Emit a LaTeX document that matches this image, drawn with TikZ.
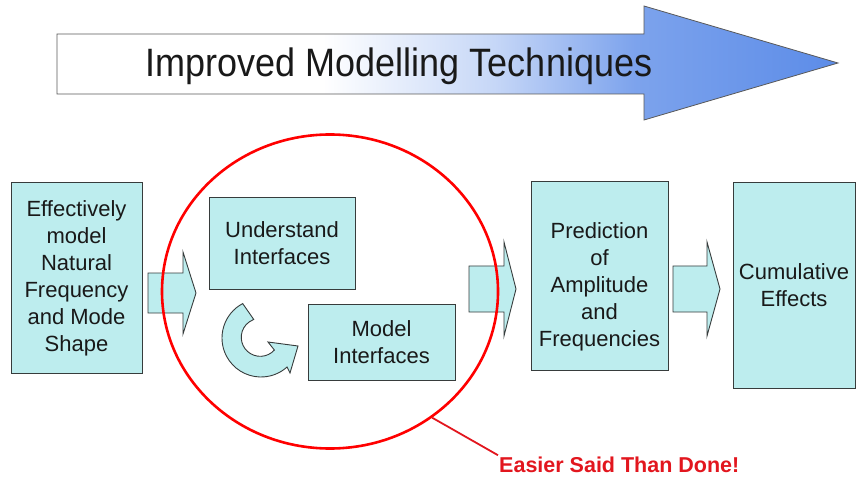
\documentclass[tikz,border=0pt]{standalone}
\usepackage{fontspec}
\setmainfont{Liberation Sans}
\usetikzlibrary{shapes.geometric,positioning}
\definecolor{boxcyan}{RGB}{189,237,238}
\definecolor{edgegray}{RGB}{55,60,60}
\definecolor{arrowblue}{RGB}{92,140,232}
\definecolor{callred}{RGB}{226,22,30}
\pgfdeclarehorizontalshading{titleshade}{100bp}{color(0bp)=(white); color(42bp)=(white); color(53bp)=(arrowblue!35); color(62bp)=(arrowblue!80); color(75bp)=(arrowblue); color(100bp)=(arrowblue)}

\begin{document}
\begin{tikzpicture}[x=1pt,y=1pt,
  flowbox/.style={draw=edgegray,line width=1pt,fill=boxcyan,inner sep=0,align=center,text=black!90,font=\fontsize{22}{27}\selectfont},
  boxtext/.style={inner sep=0,align=center,text=black!90,font=\fontsize{22}{27}\selectfont},
  blockarr/.style={draw=edgegray,line width=0.9pt,fill=boxcyan,line join=miter}]
\useasboundingbox (0,0) rectangle (856,477);
% heading arrow
\shadedraw[shading=titleshade,draw=gray!70!black,line width=0.8pt] (57,383) -- (644,383) -- (644,357) -- (838,414) -- (644,471) -- (644,443) -- (57,443) -- cycle;
\node[anchor=base,font=\fontsize{36}{40}\selectfont,text=black!90] (title) at (399,400) {\scalebox{1}[1.1]{Improved Modelling Techniques}};
% boxes
\node[flowbox,minimum width=131,minimum height=190] (natfreq) at (76.5,199) {Effectively\\model\\Natural\\Frequency\\and Mode\\Shape};
\node[flowbox,minimum width=146,minimum height=91] (understand) at (282,233.5) {Understand\\Interfaces};
\node[flowbox,minimum width=147,minimum height=76] (modelif) at (381.5,135) {Model\\Interfaces};
\node[flowbox,minimum width=137,minimum height=188] (predict) at (599.5,201) {};
\node[boxtext] (predicttext) at ([yshift=-11]predict.center) {Prediction\\of\\Amplitude\\and\\Frequencies};
\node[flowbox,minimum width=122,minimum height=205] (cumul) at (794,191.5) {Cumulative\\Effects};
% block arrows
\foreach \xa/\xb/\xc/\yc/\hb/\hh in {148/183/196/184/20/41, 469/504/516/188/23/47, 673/707/720/188/23/47}
  \draw[blockarr] (\xa,\yc-\hb) -- (\xb,\yc-\hb) -- (\xb,\yc-\hh) -- (\xc,\yc) -- (\xb,\yc+\hh) -- (\xb,\yc+\hb) -- (\xa,\yc+\hb) -- cycle;
% turning arrow
\coordinate (turn) at (261,139);
\draw[blockarr] ([shift={(118:39)}]turn) arc[start angle=118,end angle=312,radius=39] -- (290,104) -- (298,131) -- (268,135) -- ([shift={(-42:18)}]turn) arc[start angle=-42,end angle=-250,radius=19] -- cycle;
% red ring and callout
\node[draw=red,line width=2.6pt,ellipse,minimum width=336,minimum height=314,inner sep=0] (focus) at (330,185.5) {};
\node[anchor=base west,text=callred,font=\bfseries\fontsize{21.5}{24}\selectfont,inner sep=1pt] (tagline) at (498,5) {Easier Said Than Done!};
\draw[callred,line width=1.8pt] (focus.-51) -- (tagline.north west);
\end{tikzpicture}
\end{document}
